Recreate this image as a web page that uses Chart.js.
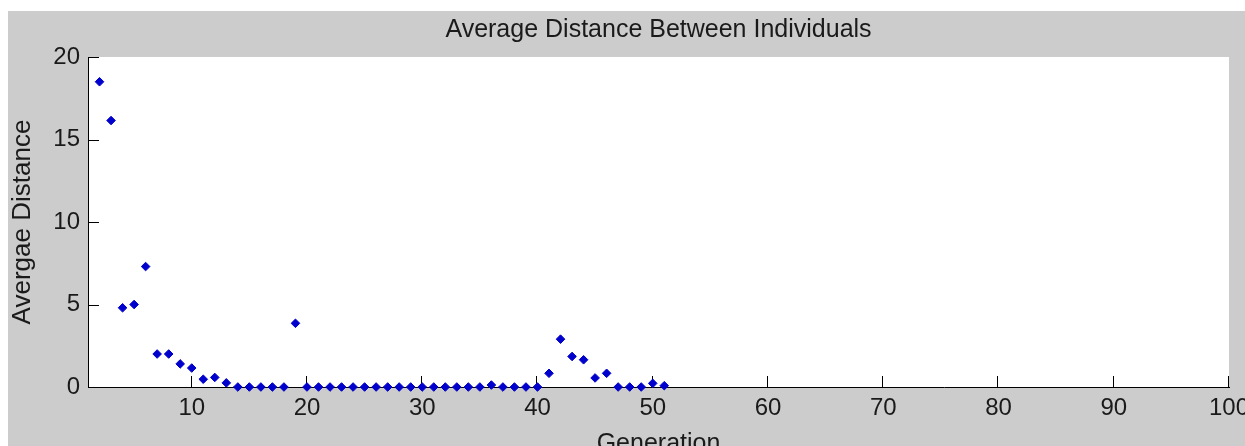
<!DOCTYPE html>
<html><head><meta charset="utf-8">
<script src="https://cdn.jsdelivr.net/npm/chart.js@4/dist/chart.umd.min.js"></script>
<style>
html,body{margin:0;padding:0;overflow:hidden;background:#fff;width:1245px;height:446px;}
#wrap{position:absolute;left:8px;top:11px;width:1251px;height:460px;}
</style></head><body>
<div id="wrap"><canvas id="c" width="1251" height="460"></canvas></div>
<script>
const generations = [2,3,4,5,6,7,8,9,10,11,12,13,14,15,16,17,18,19,20,21,22,23,24,25,26,27,28,29,30,31,32,33,34,35,36,37,38,39,40,41,42,43,44,45,46,47,48,49,50,51];
const avgDistance = [18.5,16.15,4.8,5.0,7.3,2.0,2.0,1.4,1.15,0.47,0.58,0.25,0,0,0,0,0,3.86,0,0,0,0,0,0,0,0,0,0,0,0,0,0,0,0,0.12,0,0,0,0,0.83,2.9,1.85,1.65,0.55,0.83,0,0,0,0.22,0.08];
const xTickValues = [10,20,30,40,50,60,70,80,90,100];
const yTickValues = [0,5,10,15,20];
const chartTitle = 'Average Distance Between Individuals';
const xTitle = 'Generation';
const yTitle = 'Avergae Distance';

const FONT = "'Liberation Sans', Arial, sans-serif";
const TXT = '#1a1a1a';

const frame = {
  id: 'frame',
  beforeDraw(chart) {
    const {ctx, chartArea: a} = chart;
    ctx.save();
    ctx.fillStyle = '#cccccc';
    ctx.fillRect(0, 0, chart.width, chart.height);
    ctx.fillStyle = '#ffffff';
    ctx.fillRect(a.left, a.top, a.right - a.left, a.bottom - a.top);
    ctx.restore();
  },
  beforeDatasetsDraw(chart) {
    const {ctx, chartArea: a, scales: {x, y}} = chart;
    ctx.save();
    ctx.strokeStyle = '#000';
    ctx.lineWidth = 1;
    ctx.beginPath();
    xTickValues.forEach(v => {
      const px = Math.round(x.getPixelForValue(v)) - 0.5;
      ctx.moveTo(px, a.bottom); ctx.lineTo(px, a.bottom - 11);
    });
    yTickValues.forEach(v => {
      const py = Math.round(y.getPixelForValue(v)) + 0.5;
      ctx.moveTo(a.left, py); ctx.lineTo(a.left + 11, py);
    });
    ctx.stroke();
    ctx.restore();
  }
};

new Chart(document.getElementById('c'), {
  type: 'scatter',
  data: {
    datasets: [{
      data: generations.map((g, i) => ({x: g, y: avgDistance[i]})),
      pointStyle: 'rectRot',
      pointRadius: 4.3,
      pointBorderWidth: 1,
      backgroundColor: '#0000cc',
      borderColor: '#0000cc',
      clip: false
    }]
  },
  options: {
    responsive: false,
    animation: false,
    layout: {padding: {left: 0, right: 30, top: 0, bottom: 0}},
    plugins: {
      legend: {display: false},
      tooltip: {enabled: false},
      title: {
        display: true, text: chartTitle, fullSize: false, color: TXT,
        font: {family: FONT, size: 25, weight: 'normal', lineHeight: 1.2},
        padding: {top: 4.5, bottom: 11.5}
      }
    },
    scales: {
      x: {
        type: 'linear', min: 1, max: 100,
        afterBuildTicks: s => { s.ticks = xTickValues.map(v => ({value: v})); },
        afterFit: s => { s.height = 84; },
        grid: {display: false, drawTicks: false},
        border: {display: true, color: '#000', width: 1},
        ticks: {padding: 7, color: TXT, maxRotation: 0, autoSkip: false,
          font: {family: FONT, size: 24, lineHeight: 1.2}},
        title: {display: true, text: xTitle, color: TXT,
          font: {family: FONT, size: 25, lineHeight: 1.2}, padding: {top: 0, bottom: 12}}
      },
      y: {
        type: 'linear', min: 0, max: 20,
        afterBuildTicks: s => { s.ticks = yTickValues.map(v => ({value: v})); },
        afterFit: s => { s.width = 80; },
        grid: {display: false, drawTicks: false},
        border: {display: true, color: '#000', width: 1},
        ticks: {padding: 8, color: TXT, font: {family: FONT, size: 24, lineHeight: 1.2}},
        title: {display: true, text: yTitle, color: TXT,
          font: {family: FONT, size: 26, lineHeight: 1.2}, padding: {top: -1, bottom: 0}}
      }
    }
  },
  plugins: [frame]
});
</script>
</body></html>
